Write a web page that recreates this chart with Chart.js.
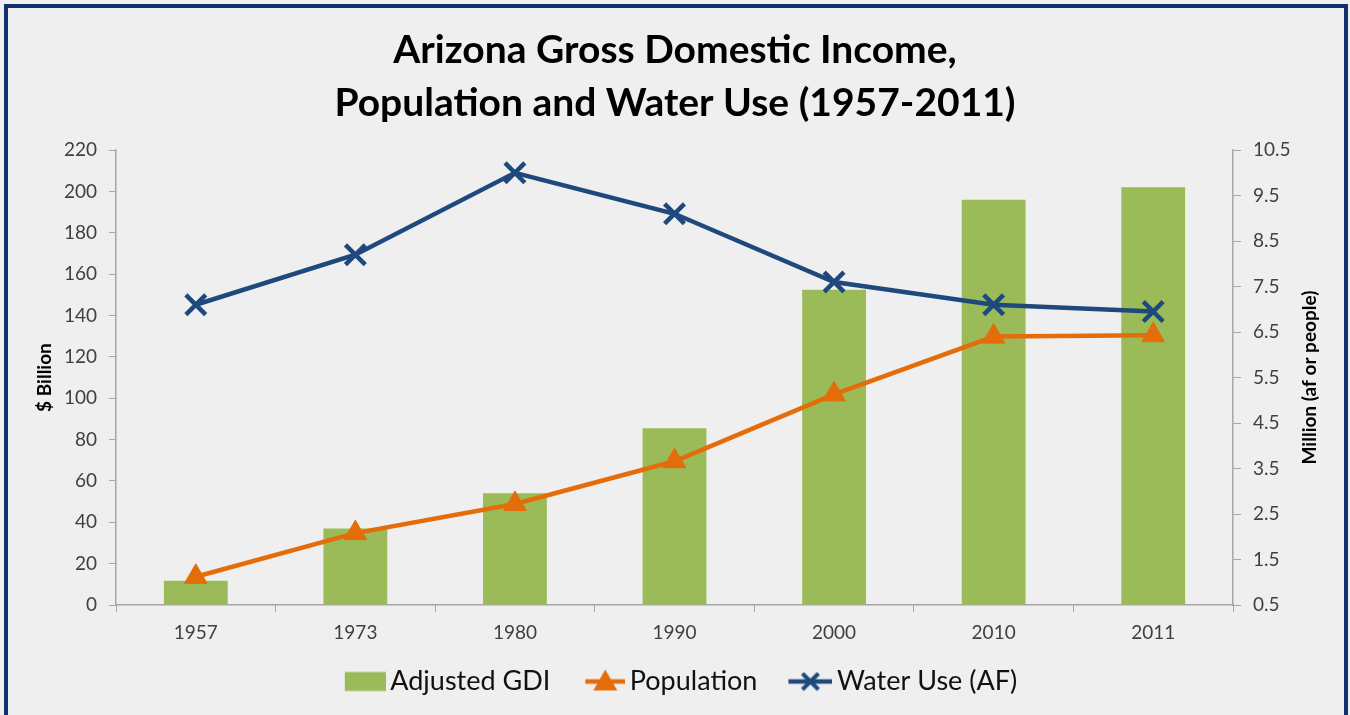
<!DOCTYPE html>
<html>
<head>
<meta charset="utf-8">
<script src="https://cdn.jsdelivr.net/npm/chart.js@4"></script>
<style>
    html, body { margin: 0; padding: 0; background: #efefef; }
    #wrap { position: relative; width: 1350px; height: 715px; overflow: hidden; }
    #frame {
        position: absolute; left: 4px; top: 4px; width: 1336px; height: 740px;
        border: 4px solid #12306e; pointer-events: none;
    }
</style>
</head>
<body>
<div id="wrap">
    <canvas id="azChart"></canvas>
    <div id="frame"></div>
</div>
<script>
/* Arizona GDI, population and water use */

const years = ['1957', '1973', '1980', '1990', '2000', '2010', '2011'];
const adjustedGdi = [11.7, 37, 54, 85.5, 152.5, 196, 202];      // $ billion
const population = [1.12, 2.08, 2.72, 3.66, 5.13, 6.4, 6.43];    // million people
const waterUse = [7.1, 8.2, 10.0, 9.1, 7.6, 7.1, 6.95];          // million af

const titleLines = ['Arizona Gross Domestic Income,', 'Population and Water Use (1957-2011)'];
const leftAxisTitle = '$ Billion';
const rightAxisTitle = 'Million (af or people)';

const GREEN = '#9bbb59';
const ORANGE = '#e46c0a';
const NAVY = '#1f497d';
const AXIS_GRAY = '#a6a6a6';

Chart.defaults.font.family = 'Lato, "Open Sans", sans-serif';

// Legend icons: Excel style line + marker.
// Icon sits at the right end of a wider transparent canvas so there is
// a gap before each legend entry but the marker stays close to its text.
const ICON_W = 62;
const ICON_H = 28;

function makeIcon(drawFn) {
    const c = document.createElement('canvas');
    c.width = ICON_W;
    c.height = ICON_H;
    drawFn(c.getContext('2d'), ICON_W, ICON_H / 2);
    return c;
}

const legendIcons = [
    makeIcon((ctx, right, mid) => {
        ctx.fillStyle = GREEN;
        ctx.fillRect(right - 41, mid - 9.5, 41, 19);
    }),
    makeIcon((ctx, right, mid) => {
        const cx = right - 20;
        ctx.strokeStyle = ORANGE;
        ctx.lineWidth = 4.5;
        ctx.beginPath();
        ctx.moveTo(right - 40, mid);
        ctx.lineTo(right, mid);
        ctx.stroke();
        ctx.fillStyle = ORANGE;
        ctx.beginPath();
        ctx.moveTo(cx, mid - 12);
        ctx.lineTo(cx + 12, mid + 9);
        ctx.lineTo(cx - 12, mid + 9);
        ctx.closePath();
        ctx.fill();
    }),
    makeIcon((ctx, right, mid) => {
        const cx = right - 22;
        ctx.strokeStyle = NAVY;
        ctx.lineWidth = 4.5;
        ctx.beginPath();
        ctx.moveTo(right - 44, mid);
        ctx.lineTo(right, mid);
        ctx.stroke();
        ctx.lineWidth = 4;
        ctx.beginPath();
        ctx.moveTo(cx - 8, mid - 8);
        ctx.lineTo(cx + 8, mid + 8);
        ctx.moveTo(cx + 8, mid - 8);
        ctx.lineTo(cx - 8, mid + 8);
        ctx.stroke();
    })
];

// Right axis title reads bottom-to-top like the left one
const rightTitlePlugin = {
    id: 'rightTitle',
    afterDraw(chart) {
        const { ctx, chartArea } = chart;
        const scale = chart.scales.y1;
        ctx.save();
        ctx.translate(scale.left + 77, (chartArea.top + chartArea.bottom) / 2);
        ctx.rotate(-Math.PI / 2);
        ctx.font = 'bold 19px Lato';
        ctx.fillStyle = '#000';
        ctx.textAlign = 'center';
        ctx.textBaseline = 'middle';
        ctx.fillText(rightAxisTitle, 0, 0);
        ctx.restore();
    }
};

document.addEventListener('DOMContentLoaded', function() {
    const ctx = document.getElementById('azChart');

    new Chart(ctx, {
        type: 'bar',
        data: {
            labels: years,
            datasets: [
                {
                    type: 'bar',
                    label: 'Adjusted GDI',
                    data: adjustedGdi,
                    yAxisID: 'y',
                    backgroundColor: GREEN,
                    barPercentage: 0.4,
                    categoryPercentage: 1,
                    order: 3
                },
                {
                    type: 'line',
                    label: 'Population',
                    data: population,
                    yAxisID: 'y1',
                    borderColor: ORANGE,
                    backgroundColor: ORANGE,
                    borderWidth: 4.5,
                    pointStyle: 'triangle',
                    pointRadius: 13,
                    pointBorderWidth: 1,
                    tension: 0,
                    order: 2
                },
                {
                    type: 'line',
                    label: 'Water Use (AF)',
                    data: waterUse,
                    yAxisID: 'y1',
                    borderColor: NAVY,
                    backgroundColor: NAVY,
                    borderWidth: 4.5,
                    pointStyle: 'crossRot',
                    pointRadius: 14,
                    pointBorderWidth: 4.5,
                    tension: 0,
                    order: 1
                }
            ]
        },
        options: {
            responsive: true,
            maintainAspectRatio: false,
            animation: false,
            layout: {
                padding: { top: 0, left: 0, right: 0, bottom: 10 }
            },
            plugins: {
                title: {
                    display: true,
                    text: titleLines,
                    color: '#000',
                    font: { size: 39, weight: 'bold', lineHeight: 1.36 },
                    padding: { top: 24, bottom: 20 }
                },
                legend: {
                    position: 'bottom',
                    labels: {
                        usePointStyle: true,
                        pointStyleWidth: 44,
                        color: '#111',
                        font: { size: 27 },
                        padding: 22,
                        generateLabels: function(chart) {
                            const items = Chart.defaults.plugins.legend.labels.generateLabels(chart);
                            items.sort((a, b) => a.datasetIndex - b.datasetIndex);
                            items.forEach(item => {
                                item.pointStyle = legendIcons[item.datasetIndex];
                                item.rotation = 0;
                            });
                            return items;
                        }
                    }
                },
                tooltip: { enabled: false }
            },
            scales: {
                x: {
                    offset: true,
                    grid: {
                        display: true,
                        drawOnChartArea: false,
                        offset: true,
                        color: AXIS_GRAY,
                        tickLength: 7
                    },
                    border: { display: true, color: AXIS_GRAY, width: 1.5 },
                    ticks: { color: '#404040', font: { size: 19 }, padding: 9 },
                    afterFit: function(scale) { scale.height = 41; }
                },
                y: {
                    position: 'left',
                    min: 0,
                    max: 220,
                    ticks: { stepSize: 20, color: '#404040', font: { size: 19 }, padding: 12 },
                    grid: {
                        display: true,
                        drawOnChartArea: false,
                        color: AXIS_GRAY,
                        tickLength: 7
                    },
                    border: { display: true, color: AXIS_GRAY, width: 1.5 },
                    title: {
                        display: true,
                        text: leftAxisTitle,
                        color: '#000',
                        font: { size: 19, weight: 'bold' },
                        padding: { top: 33, bottom: 0 }
                    },
                    afterFit: function(scale) { scale.width = 116; }
                },
                y1: {
                    position: 'right',
                    min: 0.5,
                    max: 10.5,
                    ticks: { stepSize: 1, color: '#404040', font: { size: 19 }, padding: 12 },
                    grid: {
                        display: true,
                        drawOnChartArea: false,
                        color: AXIS_GRAY,
                        tickLength: 8
                    },
                    border: { display: true, color: AXIS_GRAY, width: 1.5 },
                    afterFit: function(scale) { scale.width = 117; }
                }
            }
        },
        plugins: [rightTitlePlugin]
    });
});
</script>
</body>
</html>
